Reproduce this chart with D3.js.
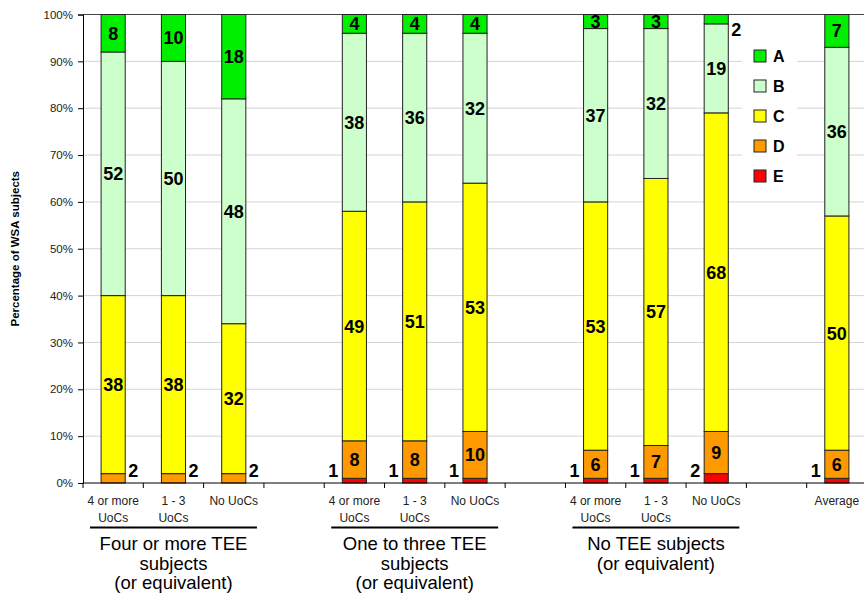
<!DOCTYPE html>
<html>
<head>
<meta charset="utf-8">
<script src="https://cdn.jsdelivr.net/npm/d3@7"></script>
<style>
  html, body { margin: 0; padding: 0; background: #fff; }
  svg { display: block; font-family: Arial, "Liberation Sans", sans-serif; }
</style>
</head>
<body>
<svg id="chart" width="864" height="597"></svg>
<script>
// Category slots along the x axis (empty entries are spacer slots between groups)
const categoryLabels = [
  ["4 or more", "UoCs"], ["1 - 3", "UoCs"], ["No UoCs"], [],
  ["4 or more", "UoCs"], ["1 - 3", "UoCs"], ["No UoCs"], [],
  ["4 or more", "UoCs"], ["1 - 3", "UoCs"], ["No UoCs"], [],
  ["Average"]
];

// Grade shares (%) per slot, stacked from E at the bottom to A at the top
const gradeE = [0, 0, 0, null, 1, 1, 1, null, 1, 1, 2, null, 1];
const gradeD = [2, 2, 2, null, 8, 8, 10, null, 6, 7, 9, null, 6];
const gradeC = [38, 38, 32, null, 49, 51, 53, null, 53, 57, 68, null, 50];
const gradeB = [52, 50, 48, null, 38, 36, 32, null, 37, 32, 19, null, 36];
const gradeA = [8, 10, 18, null, 4, 4, 4, null, 3, 3, 2, null, 7];

const seriesNames = ["E", "D", "C", "B", "A"];
const seriesValues = [gradeE, gradeD, gradeC, gradeB, gradeA];
const seriesColors = ["#ff0000", "#ff9900", "#ffff00", "#ccffcc", "#00ee00"];
const legendOrder = ["A", "B", "C", "D", "E"];

// Group titles spanning three slots each
const groupTitles = [
  { first: 0, last: 2, lines: ["Four or more TEE", "subjects", "(or equivalent)"] },
  { first: 4, last: 6, lines: ["One to three TEE", "subjects", "(or equivalent)"] },
  { first: 8, last: 10, lines: ["No TEE subjects", "(or equivalent)"] }
];

const yTicks = [0, 10, 20, 30, 40, 50, 60, 70, 80, 90, 100];
const yTitle = "Percentage of WSA subjects";

const svg = d3.select("#chart");
const plot = { left: 83, right: 867, top: 14.5, bottom: 483 };

const x = d3.scaleBand()
  .domain(d3.range(categoryLabels.length))
  .range([plot.left, plot.right])
  .padding(0);
const barW = x.bandwidth() * 0.4;

const y = d3.scaleLinear().domain([0, 100]).range([plot.bottom, plot.top]);
const color = d3.scaleOrdinal().domain(seriesNames).range(seriesColors);

// Gridlines
svg.append("g")
  .selectAll("line")
  .data(yTicks.filter(t => t > 0 && t < 100))
  .join("line")
  .attr("x1", plot.left).attr("x2", plot.right)
  .attr("y1", d => y(d)).attr("y2", d => y(d))
  .attr("stroke", "#d4d4d4").attr("stroke-width", 1);

// Top border of plot area
svg.append("line")
  .attr("x1", plot.left).attr("x2", plot.right)
  .attr("y1", y(100)).attr("y2", y(100))
  .attr("stroke", "#444").attr("stroke-width", 1);

// Stack the series
const rows = categoryLabels.map((c, i) => {
  const r = { idx: i };
  seriesNames.forEach((s, k) => { r[s] = seriesValues[k][i] == null ? 0 : seriesValues[k][i]; });
  r.empty = gradeE[i] == null;
  return r;
});
const stacked = d3.stack().keys(seriesNames)(rows);

const barsG = svg.append("g");
stacked.forEach(layer => {
  barsG.selectAll(null)
    .data(layer.filter(d => !d.data.empty && d[1] - d[0] > 0))
    .join("rect")
    .attr("x", d => x(d.data.idx) + (x.bandwidth() - barW) / 2)
    .attr("width", barW)
    .attr("y", d => y(d[1]))
    .attr("height", d => y(d[0]) - y(d[1]))
    .attr("fill", color(layer.key))
    .attr("stroke", "#222")
    .attr("stroke-width", 1);
});

// Value labels
const labelsG = svg.append("g")
  .attr("font-weight", "bold").attr("font-size", 18).attr("fill", "#000");
stacked.forEach(layer => {
  layer.filter(d => !d.data.empty && d[1] - d[0] > 0).forEach(d => {
    const v = d[1] - d[0];
    const cx = x(d.data.idx) + x.bandwidth() / 2;
    let mid = y((d[0] + d[1]) / 2);
    let tx = cx, anchor = "middle";
    if (v < 3) {
      mid = Math.max(30, Math.min(471, mid));
      if (layer.key === "E") { tx = cx - barW / 2 - 4; anchor = "end"; }
      else { tx = cx + barW / 2 + 3; anchor = "start"; }
    }
    labelsG.append("text")
      .attr("x", tx).attr("y", mid)
      .attr("dy", "0.36em")
      .attr("text-anchor", anchor)
      .text(v);
  });
});

// Y axis
const yAxis = d3.axisLeft(y).tickValues(yTicks).tickFormat(d => d + "%").tickSize(5).tickPadding(5);
const yg = svg.append("g").attr("transform", `translate(${plot.left},0)`).call(yAxis);
yg.select(".domain").attr("stroke", "#000");
yg.selectAll(".tick line").attr("stroke", "#000");
yg.selectAll("text").attr("font-size", 11.5).attr("fill", "#222")
  .attr("font-family", "Arial, 'Liberation Sans', sans-serif");

// X axis line and slot boundary ticks
svg.append("line")
  .attr("x1", plot.left).attr("x2", plot.right)
  .attr("y1", plot.bottom).attr("y2", plot.bottom)
  .attr("stroke", "#000");
svg.append("g").selectAll("line")
  .data(d3.range(categoryLabels.length + 1))
  .join("line")
  .attr("x1", i => plot.left + i * x.step()).attr("x2", i => plot.left + i * x.step())
  .attr("y1", plot.bottom).attr("y2", plot.bottom + 5)
  .attr("stroke", "#000");

// Category labels
const catG = svg.append("g").attr("font-size", 12).attr("fill", "#222").attr("text-anchor", "middle");
categoryLabels.forEach((lines, i) => {
  lines.forEach((ln, j) => {
    catG.append("text")
      .attr("x", x(i) + x.bandwidth() / 2)
      .attr("y", 505 + j * 16.5)
      .text(ln);
  });
});

// Group underlines and titles
const groupG = svg.append("g");
groupTitles.forEach(g => {
  const x0 = x(g.first) + 7;
  const x1 = x(g.last) + x.bandwidth() - 7;
  groupG.append("line")
    .attr("x1", x0).attr("x2", x1)
    .attr("y1", 527.5).attr("y2", 527.5)
    .attr("stroke", "#000").attr("stroke-width", 2);
  g.lines.forEach((ln, j) => {
    groupG.append("text")
      .attr("x", (x0 + x1) / 2)
      .attr("y", 550 + j * 19.5)
      .attr("text-anchor", "middle")
      .attr("font-size", 18.5)
      .attr("fill", "#000")
      .text(ln);
  });
});

// Y axis title
svg.append("text")
  .attr("transform", `translate(19,${(plot.top + plot.bottom) / 2}) rotate(-90)`)
  .attr("text-anchor", "middle")
  .attr("font-size", 11.5)
  .attr("font-weight", "bold")
  .attr("fill", "#000")
  .text(yTitle);

// Legend
const legend = svg.append("g");
legend.append("rect")
  .attr("x", 742).attr("y", 40).attr("width", 55).attr("height", 152)
  .attr("fill", "#fff");
legendOrder.forEach((s, i) => {
  const ly = 50 + i * 30;
  legend.append("rect")
    .attr("x", 754).attr("y", ly).attr("width", 12).attr("height", 12)
    .attr("fill", color(s)).attr("stroke", "#222").attr("stroke-width", 1);
  legend.append("text")
    .attr("x", 773).attr("y", ly + 6)
    .attr("dy", "0.36em")
    .attr("font-size", 16).attr("font-weight", "bold").attr("fill", "#000")
    .text(s);
});
</script>
</body>
</html>
